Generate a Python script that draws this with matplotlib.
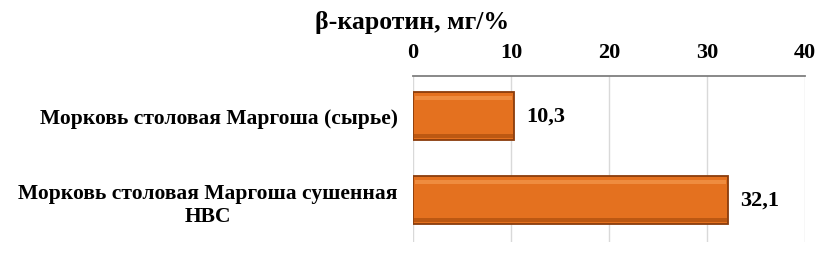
import numpy as np
import matplotlib.pyplot as plt

categories = ["Морковь столовая Маргоша (сырье)",
              "Морковь столовая Маргоша сушенная\nНВС"]
values = [10.3, 32.1]
value_labels = ["10,3", "32,1"]
xticks = [0, 10, 20, 30, 40]

plt.rcParams['font.family'] = ['Liberation Serif', 'DejaVu Serif']
plt.rcParams['font.weight'] = 'bold'

fig = plt.figure(figsize=(8.3, 2.55), dpi=100)
ax = fig.add_axes([0.4976, 0.047, 0.4724, 0.651])

y = np.arange(len(categories))
ax.barh(y, values, height=0.57, color='#E4711F', edgecolor='#8A3C0C', linewidth=1.3, zorder=3)
# lighter band along the top of each bar (bevel look)
ax.barh(y - 0.215, np.array(values) - 0.4, left=0.2, height=0.05, color='#EF8C3F', linewidth=0, zorder=4)
# darker band along the bottom
ax.barh(y + 0.24, np.array(values) - 0.2, left=0.1, height=0.05, color='#BC5812', linewidth=0, zorder=4)

for yi, v, lab in zip(y, values, value_labels):
    ax.text(v + 1.3, yi, lab, va='center', ha='left', fontsize=16, fontweight='bold')

ax.set_xlim(0, 40)
ax.set_ylim(1.5, -0.476)
ax.set_xticks(xticks)
ax.set_yticks(y)
ax.set_yticklabels(categories, fontsize=15.5, fontweight='bold', multialignment='center',
                   linespacing=1.25)
ax.xaxis.tick_top()
ax.tick_params(axis='x', length=0, pad=10, labelsize=16)
ax.tick_params(axis='y', length=0, pad=11)
for lab in ax.get_xticklabels():
    lab.set_fontweight('bold')
ax.grid(axis='x', color='#D9D9D9', linewidth=1, zorder=0)
for s in ['left', 'right', 'bottom']:
    ax.spines[s].set_visible(False)
ax.spines['top'].set_color('#7F7F7F')
ax.spines['top'].set_linewidth(1.3)

fig.text(0.38, 0.91, "β-каротин, мг/%", fontsize=18.5, fontweight='bold', ha='left', va='center')

fig.savefig('out.png', dpi=100)
